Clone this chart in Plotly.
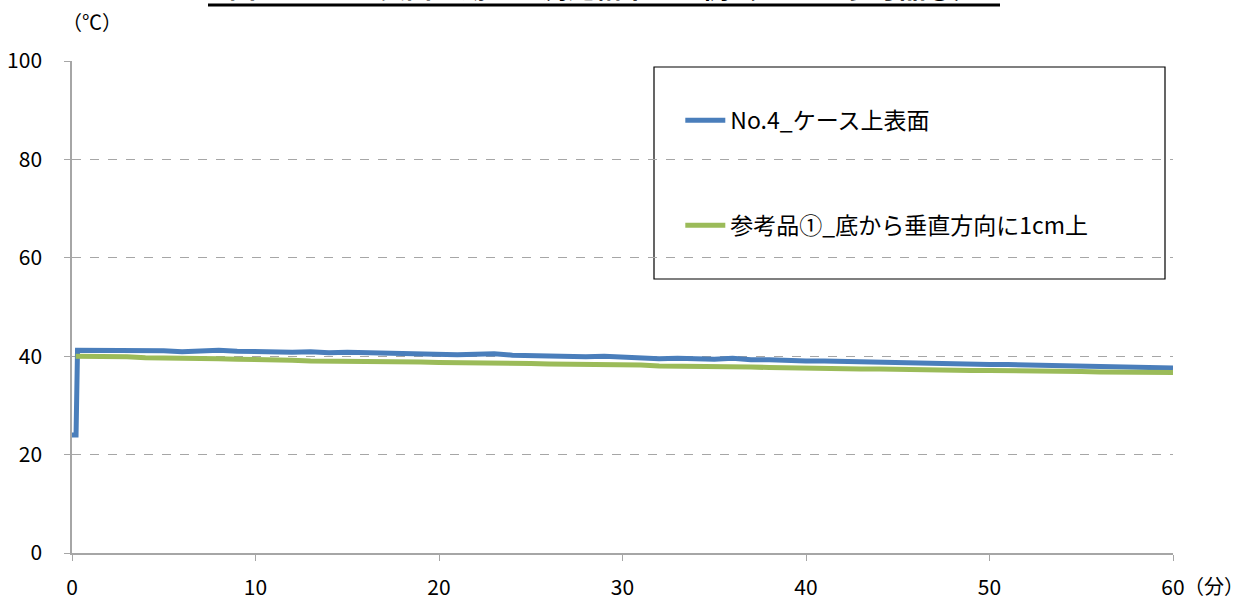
import plotly.graph_objects as go

# ---- data ----
blue_name = "No.4_ケース上表面"
green_name = "参考品①_底から垂直方向に1cm上"

blue_t = [0, 0.22, 0.3] + list(range(1, 61))
blue_v = [24.0, 24.0, 41.2,
          41.2, 41.0, 41.2, 41.0, 41.1, 40.9, 41.0, 41.2, 41.0, 40.9,
          40.9, 40.8, 40.9, 40.7, 40.8, 40.7, 40.6, 40.6, 40.4, 40.4,
          40.3, 40.4, 40.5, 40.2, 40.1, 40.2, 40.0, 39.9, 40.0, 39.8,
          39.8, 39.5, 39.6, 39.5, 39.4, 39.6, 39.3, 39.3, 39.1, 39.0,
          39.0, 38.9, 38.8, 38.7, 38.7, 38.6, 38.5, 38.4, 38.4, 38.3,
          38.3, 38.2, 38.1, 38.1, 38.0, 37.9, 37.8, 37.8, 37.7, 37.6]

green_t = [0.2] + list(range(1, 61))
green_v = [40.0,
           40.0, 39.9, 39.9, 39.7, 39.7, 39.6, 39.6, 39.5, 39.4, 39.4,
           39.3, 39.2, 39.0, 39.0, 39.0, 38.9, 38.9, 38.8, 38.8, 38.7,
           38.7, 38.6, 38.6, 38.5, 38.5, 38.4, 38.4, 38.3, 38.3, 38.2,
           38.2, 38.0, 38.0, 37.9, 37.9, 37.8, 37.8, 37.7, 37.6, 37.6,
           37.5, 37.5, 37.4, 37.4, 37.3, 37.3, 37.2, 37.2, 37.1, 37.1,
           37.1, 37.0, 37.0, 36.9, 36.9, 36.8, 36.8, 36.8, 36.7, 36.7]

x_ticks = [0, 10, 20, 30, 40, 50, 60]
y_ticks = [0, 20, 40, 60, 80, 100]
title_text = "<b>図4．ケース表面と湯温の測定結果の一例（No.4と参考品①）</b>"
y_unit = "（℃）"
x_unit = "（分）"

FONT = "Noto Sans CJK JP"

fig = go.Figure()
fig.add_trace(go.Scatter(x=blue_t, y=blue_v, mode="lines", name=blue_name,
                         legendgroup="a",
                         line=dict(color="#4A7EBB", width=5)))
fig.add_trace(go.Scatter(x=green_t, y=green_v, mode="lines", name=green_name,
                         legendgroup="b",
                         line=dict(color="#9BBB59", width=5)))

fig.update_layout(
    width=1257, height=601,
    margin=dict(l=72, r=84, t=61, b=48, autoexpand=False),
    paper_bgcolor="white", plot_bgcolor="white",
    font=dict(family=FONT, color="#000000", size=21),
    showlegend=True,
    legend=dict(x=0.5525, y=0.923, xanchor="left", yanchor="top",
                bgcolor="rgba(0,0,0,0)", borderwidth=0,
                font=dict(size=23, family=FONT),
                tracegroupgap=72, itemwidth=40),
    xaxis=dict(range=[0, 60], tickvals=x_ticks, showgrid=False,
               showline=True, linecolor="#A6A6A6", linewidth=1.5,
               ticks="outside", ticklen=6, tickcolor="#A6A6A6",
               zeroline=False, ticklabelstandoff=9, automargin=False),
    yaxis=dict(range=[0, 100], tickvals=y_ticks, showgrid=True,
               gridcolor="#A6A6A6", griddash="dash", gridwidth=1,
               showline=True, linecolor="#A6A6A6", linewidth=1.5,
               ticks="outside", ticklen=6, tickcolor="#A6A6A6",
               zeroline=False, ticklabelstandoff=18, automargin=False),
)

# legend frame
fig.add_shape(type="rect", xref="paper", yref="paper",
              x0=(654 - 72) / 1101, x1=(1165 - 72) / 1101,
              y0=(553 - 279) / 492, y1=(553 - 67) / 492,
              line=dict(color="black", width=1.2), fillcolor="white",
              layer="below")

# title (cropped at the top like the reference) and its underline
fig.add_annotation(text=title_text, xref="paper", yref="paper",
                   x=(604 - 72) / 1101, y=(553 - 8) / 492,
                   xanchor="center", yanchor="bottom", showarrow=False,
                   font=dict(size=27, family=FONT))
fig.add_shape(type="line", xref="paper", yref="paper",
              x0=(208 - 72) / 1101, x1=(1000 - 72) / 1101,
              y0=(553 - 5) / 492, y1=(553 - 5) / 492,
              line=dict(color="black", width=3))

# unit labels
fig.add_annotation(text=y_unit, xref="paper", yref="paper",
                   x=(92 - 72) / 1101, y=(553 - 22) / 492,
                   xanchor="center", yanchor="middle", showarrow=False,
                   font=dict(size=20, family=FONT))
fig.add_annotation(text=x_unit, xref="paper", yref="paper",
                   x=(1214 - 72) / 1101, y=(553 - 585) / 492,
                   xanchor="center", yanchor="middle", showarrow=False,
                   font=dict(size=20, family=FONT))

fig.write_html("out.html",
               config={"displayModeBar": False},
               post_script="document.body.style.margin='0';"
                           "document.body.style.overflow='hidden';")
